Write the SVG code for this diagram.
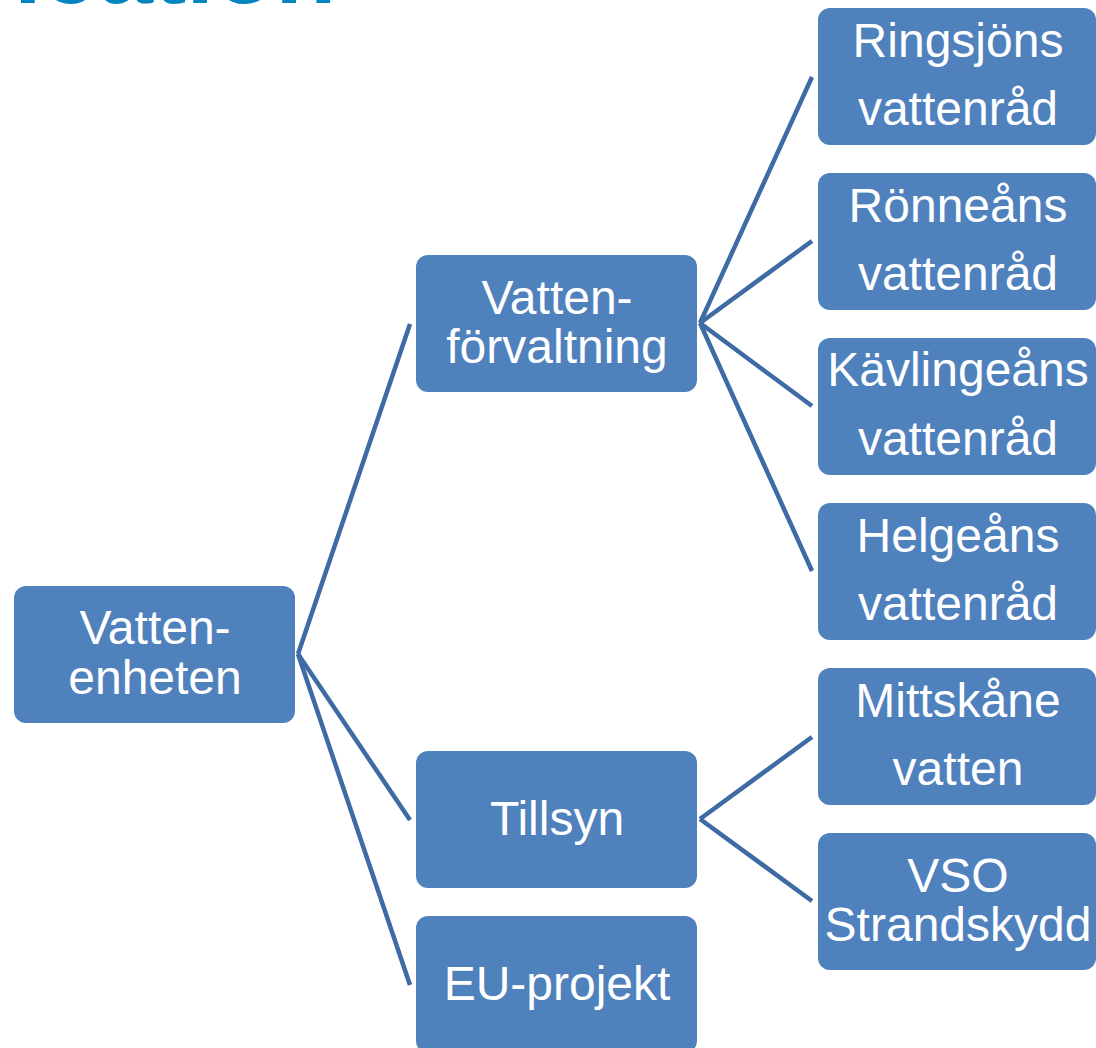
<svg xmlns="http://www.w3.org/2000/svg" width="1096" height="1048" viewBox="0 0 1096 1048">
<style>
.box{fill:#4F81BD;}
.lbl{fill:#FFFFFF;font-family:"Liberation Sans",Arial,sans-serif;font-size:48px;text-anchor:middle;}
.title{fill:#0085C1;font-family:"Liberation Sans",Arial,sans-serif;font-size:100px;font-weight:bold;}
.conn line{stroke:#3E6BA3;stroke-width:4.5;stroke-linecap:butt;}
</style>
<rect width="1096" height="1048" fill="#FFFFFF"/>
<text class="title" x="14" y="3">ication</text>
<g id="connectors" class="conn">
<line x1="298" y1="654" x2="410" y2="324"/>
<line x1="298" y1="654" x2="410" y2="820"/>
<line x1="298" y1="654" x2="410" y2="985"/>
<line x1="700" y1="323" x2="812" y2="77"/>
<line x1="700" y1="323" x2="812" y2="241"/>
<line x1="700" y1="323" x2="812" y2="406"/>
<line x1="700" y1="323" x2="812" y2="571"/>
<line x1="700" y1="819" x2="812" y2="737"/>
<line x1="700" y1="819" x2="812" y2="901"/>
</g>
<g id="vattenenheten">
<rect class="box" x="14" y="586" width="281" height="137" rx="12"/>
<text class="lbl" x="155" y="644">Vatten-</text>
<text class="lbl" x="155" y="694">enheten</text>
</g>
<g id="vattenforvaltning">
<rect class="box" x="416" y="255" width="281" height="137" rx="12"/>
<text class="lbl" x="557" y="314">Vatten-</text>
<text class="lbl" x="557" y="363">förvaltning</text>
</g>
<g id="tillsyn">
<rect class="box" x="416" y="751" width="281" height="137" rx="12"/>
<text class="lbl" x="557" y="835">Tillsyn</text>
</g>
<g id="euprojekt">
<rect class="box" x="416" y="916" width="281" height="137" rx="12"/>
<text class="lbl" x="557" y="1000">EU-projekt</text>
</g>
<g id="ringsjons">
<rect class="box" x="818" y="8" width="278" height="137" rx="12"/>
<text class="lbl" x="958" y="57">Ringsjöns</text>
<text class="lbl" x="958" y="125">vattenråd</text>
</g>
<g id="ronneans">
<rect class="box" x="818" y="173" width="278" height="137" rx="12"/>
<text class="lbl" x="958" y="222">Rönneåns</text>
<text class="lbl" x="958" y="290">vattenråd</text>
</g>
<g id="kavlingeans">
<rect class="box" x="818" y="338" width="278" height="137" rx="12"/>
<text class="lbl" x="958" y="386">Kävlingeåns</text>
<text class="lbl" x="958" y="455">vattenråd</text>
</g>
<g id="helgeans">
<rect class="box" x="818" y="503" width="278" height="137" rx="12"/>
<text class="lbl" x="958" y="552">Helgeåns</text>
<text class="lbl" x="958" y="620">vattenråd</text>
</g>
<g id="mittskane">
<rect class="box" x="818" y="668" width="278" height="137" rx="12"/>
<text class="lbl" x="958" y="717">Mittskåne</text>
<text class="lbl" x="958" y="785">vatten</text>
</g>
<g id="vso">
<rect class="box" x="818" y="833" width="278" height="137" rx="12"/>
<text class="lbl" x="958" y="892">VSO</text>
<text class="lbl" x="958" y="941">Strandskydd</text>
</g>
</svg>
